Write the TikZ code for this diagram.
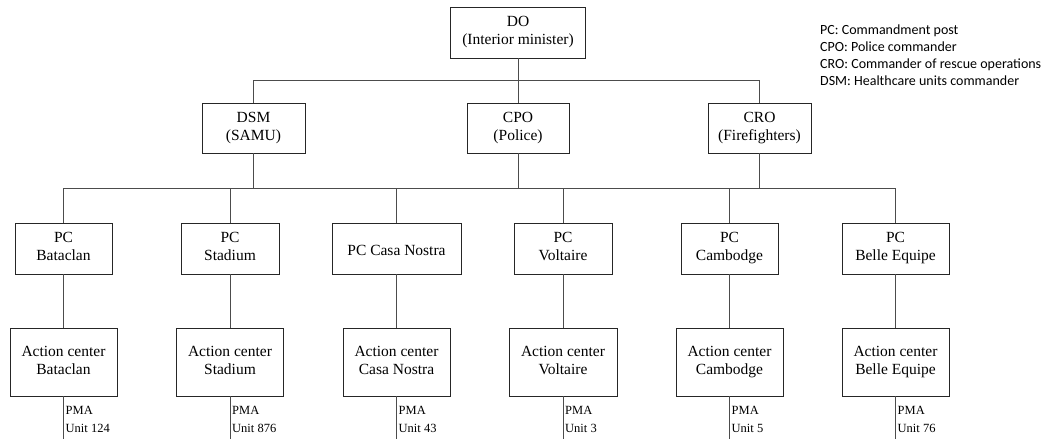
\documentclass[tikz,border=0pt]{standalone}
\usepackage{fontspec}
\setmainfont{Liberation Serif}
\newfontfamily\legendfont{Carlito}
\begin{document}
\begin{tikzpicture}[x=1pt,y=-1pt,
  box/.style={draw=black!85,line width=0.9pt,fill=white,inner sep=0pt,align=center,
    font=\fontsize{15.5}{18}\selectfont,
    execute at begin node={\rule{0pt}{16.5pt}},
    execute at end node={\rule[-3.5pt]{0pt}{3.5pt}}},
  link/.style={draw=black!70,line width=0.9pt},
  pma/.style={anchor=base west,inner sep=0pt,font=\fontsize{12.5}{14}\selectfont},
  legend/.style={anchor=base west,inner sep=0pt,font=\legendfont\fontsize{14}{17}\selectfont}]
\fill[white] (0,0) rectangle (1044,439);
\useasboundingbox (0,0) rectangle (1044,439);

% top level
\node[box,minimum width=135pt,minimum height=51pt] (do) at (518,32.5) {DO\\(Interior minister)};

% commanders
\node[box,minimum width=103pt,minimum height=50pt] (dsm) at (253.5,128) {DSM\\(SAMU)};
\node[box,minimum width=102pt,minimum height=50pt] (cpo) at (518,128) {CPO\\(Police)};
\node[box,minimum width=103pt,minimum height=50pt] (cro) at (759.5,128) {CRO\\(Firefighters)};

% commandment posts
\node[box,minimum width=97pt,minimum height=51pt]  (pc1) at (63.5,248.5)  {PC\\Bataclan};
\node[box,minimum width=98pt,minimum height=51pt]  (pc2) at (230,248.5)   {PC\\Stadium};
\node[box,minimum width=129pt,minimum height=51pt] (pc3) at (396.5,248.5) {PC Casa Nostra};
\node[box,minimum width=98pt,minimum height=51pt]  (pc4) at (563,248.5)   {PC\\Voltaire};
\node[box,minimum width=97pt,minimum height=51pt]  (pc5) at (729.5,248.5) {PC\\Cambodge};
\node[box,minimum width=107pt,minimum height=51pt] (pc6) at (895.5,248.5) {PC\\Belle Equipe};

% action centers
\node[box,minimum width=107pt,minimum height=68pt] (ac1) at (63.5,362)  {Action center\\Bataclan};
\node[box,minimum width=107pt,minimum height=68pt] (ac2) at (230,362)   {Action center\\Stadium};
\node[box,minimum width=107pt,minimum height=68pt] (ac3) at (396.5,362) {Action center\\Casa Nostra};
\node[box,minimum width=108pt,minimum height=68pt] (ac4) at (563,362)   {Action center\\Voltaire};
\node[box,minimum width=107pt,minimum height=68pt] (ac5) at (729.5,362) {Action center\\Cambodge};
\node[box,minimum width=107pt,minimum height=68pt] (ac6) at (895.5,362) {Action center\\Belle Equipe};

% buses
\coordinate (bus1) at (0,80);
\coordinate (bus2) at (0,188);

% DO to commanders
\draw[link] (do.south) -- (cpo.north);
\draw[link] (dsm.north) -- (dsm.north |- bus1) -| (cro.north);

% commanders to posts
\draw[link] (pc1.north) -- (pc1.north |- bus2) -| (pc6.north);
\foreach \n in {dsm,cpo,cro} \draw[link] (\n.south) -- (\n.south |- bus2);
\foreach \n in {pc2,pc3,pc4,pc5} \draw[link] (\n.north) -- (\n.north |- bus2);

% posts to action centers, and medical units below
\foreach \i/\u in {1/124,2/876,3/43,4/3,5/5,6/76} {
  \draw[link] (pc\i) -- (ac\i);
  \coordinate (end\i) at (ac\i.south |- 0,439);
  \draw[link] (ac\i.south) -- (end\i);
  \node[pma] (pma\i) at ([xshift=2pt]ac\i.south |- 0,414.5) {PMA};
  \node[pma] (unit\i) at ([xshift=2pt]ac\i.south |- 0,432.5) {Unit \u};
}

% abbreviations
\node[legend] (lg1) at (820,34.5) {PC: Commandment post};
\node[legend] (lg2) at (820,51.5) {CPO: Police commander};
\node[legend] (lg3) at (820,68.5) {CRO: Commander of rescue operations};
\node[legend] (lg4) at (820,85.5) {DSM: Healthcare units commander};
\end{tikzpicture}
\end{document}
